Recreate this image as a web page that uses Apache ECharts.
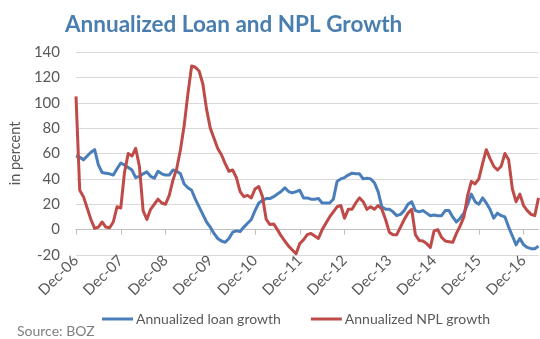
<!DOCTYPE html>
<html>
<head>
<meta charset="utf-8">
<script src="https://cdn.jsdelivr.net/npm/echarts@6/dist/echarts.min.js"></script>
<style>
html,body{margin:0;padding:0;background:#fff;}
#chart{width:540px;height:339px;}
</style>
</head>
<body>
<div id="chart"></div>
<script>
// Monthly observations, Dec-06 .. Apr-17
const monthNames = ['Jan','Feb','Mar','Apr','May','Jun','Jul','Aug','Sep','Oct','Nov','Dec'];
const startMonth = 11, startYear = 2006, nPoints = 125;
const categories = [];
for (let k = 0; k < nPoints; k++) {
  const m = (startMonth + k) % 12;
  const y = startYear + Math.floor((startMonth + k) / 12);
  categories.push(monthNames[m] + '-' + String(y % 100).padStart(2, '0'));
}
const tickLabels = ['Dec-06','Dec-07','Dec-08','Dec-09','Dec-10','Dec-11','Dec-12','Dec-13','Dec-14','Dec-15','Dec-16'];

const loanGrowth = [
  58, 57, 55, 58, 61, 63, 51, 45, 44.5, 44, 43, 48,
  52.5, 51, 49, 47, 41, 42, 44, 45.5, 42, 40.5, 46, 44,
  43, 43, 47, 46, 44, 36, 33, 31, 24, 18, 12, 6,
  2, -3, -7, -9, -10, -7, -2, -1, -1.5, 2, 5, 8,
  15, 21, 23, 24.5, 24.5, 26, 28, 30, 33, 30, 29, 30,
  31, 25, 25, 24, 24, 24.5, 21, 21, 21, 24, 38, 40,
  41, 43, 44.5, 44, 44, 40, 40.5, 40, 37, 30, 18, 16,
  16, 14, 11, 12, 15, 20, 22, 15, 14, 15, 13, 11,
  11.5, 11, 11, 15, 15, 10, 6, 9, 13, 20, 28, 22,
  20, 25, 21, 16, 9, 13, 11, 10, 2, -5, -12, -7,
  -12, -14, -15, -15, -13
];
const nplGrowth = [
  105, 31, 26, 17, 8, 1, 2, 6, 2, 1.5, 6, 18,
  17, 45, 60, 58, 64, 50, 15, 8, 16, 20, 24, 21,
  20, 27, 39, 48, 63, 82, 107, 129, 128, 125, 115, 95,
  80, 72, 64, 59, 52, 46, 47, 41, 30, 26, 27, 25,
  32, 34, 26, 8, 4, 4.5, 0, -5, -9, -13, -16, -19,
  -11, -8, -4, -3, -5, -7, 0, 5, 10, 14, 18, 19,
  9, 16, 16, 21, 25, 22, 16, 18, 16, 19, 16, 8,
  -2, -4, -4, 2, 8, 13, 16, -4, -8.5, -9, -11, -14,
  -1, 0, -6, -9, -9.5, -10, -3, 3, 10, 27, 38, 36,
  40, 52, 63, 56, 50, 47, 50, 60, 55, 32, 22, 28,
  19, 15, 12, 11, 25
];
const yTicks = { min: -20, max: 140, step: 20 };
const seriesNames = ['Annualized loan growth', 'Annualized NPL growth'];

const FONT = 'Lato';
const chart = echarts.init(document.getElementById('chart'), null, {renderer: 'canvas'});
const isTick = (idx, val) => tickLabels.indexOf(categories[idx]) >= 0;
chart.setOption({
  animation: false,
  backgroundColor: '#ffffff',
  textStyle: { fontFamily: FONT },
  title: {
    text: 'Annualized Loan and NPL Growth',
    left: 60, top: 8,
    textStyle: { fontFamily: FONT, fontWeight: 'bold', fontSize: 22.5, color: '#4a7eb0' }
  },
  graphic: [{
    type: 'text', left: 17, top: 324,
    style: { text: 'Source: BOZ', fontFamily: FONT, fontSize: 14, fill: '#7f7f7f' }
  }],
  legend: {
    data: seriesNames,
    left: 97, top: 307,
    icon: 'rect', itemWidth: 31, itemHeight: 3, itemGap: 30,
    textStyle: { fontFamily: FONT, fontSize: 14, color: '#595959', padding: [0, 0, 0, -2] }
  },
  grid: { left: 69, right: 1.5, top: 52, bottom: 84, containLabel: false },
  xAxis: [{
    type: 'category', data: categories, boundaryGap: false,
    axisLine: { onZero: true, lineStyle: { color: '#bfbfbf', width: 1 } },
    axisTick: { show: true, interval: isTick, length: 5, lineStyle: { color: '#bfbfbf' } },
    axisLabel: { show: false }, splitLine: { show: false }
  }, {
    type: 'category', data: categories, boundaryGap: false, position: 'bottom',
    axisLine: { show: false, onZero: false }, axisTick: { show: false },
    axisLabel: { interval: isTick, rotate: 45, margin: 3, fontFamily: FONT, fontSize: 15, color: '#595959' },
    splitLine: { show: false }
  }],
  yAxis: {
    type: 'value', min: yTicks.min, max: yTicks.max, interval: yTicks.step,
    name: 'in percent', nameLocation: 'middle', nameGap: 48, nameRotate: 90,
    nameTextStyle: { fontFamily: FONT, fontSize: 14.5, color: '#595959' },
    axisLine: { show: false }, axisTick: { show: false },
    axisLabel: { margin: 16, fontFamily: FONT, fontSize: 15, color: '#595959' },
    splitLine: { lineStyle: { color: '#d9d9d9', width: 1 } }
  },
  series: [{
    name: seriesNames[0], type: 'line', xAxisIndex: 0, data: loanGrowth,
    symbol: 'none', smooth: false, color: '#4a7ebb',
    lineStyle: { width: 3, color: '#4a7ebb', join: 'round' }, z: 3
  }, {
    name: seriesNames[1], type: 'line', xAxisIndex: 0, data: nplGrowth,
    symbol: 'none', smooth: false, color: '#be4b48',
    lineStyle: { width: 3, color: '#be4b48', join: 'round' }, z: 4
  }]
});
</script>
</body>
</html>
